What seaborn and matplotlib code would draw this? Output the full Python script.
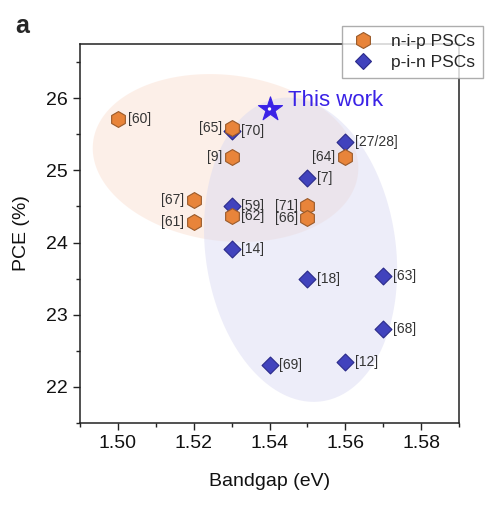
import numpy as np
import pandas as pd
import matplotlib
matplotlib.use("Agg")
import matplotlib.pyplot as plt
from matplotlib.patches import Polygon
from matplotlib.lines import Line2D
import seaborn as sns

# ---------------- data ----------------
nip_refs = ["[60]", "[65]", "[9]", "[67]", "[61]", "[62]", "[71]", "[66]", "[64]"]
nip_bandgap = [1.50, 1.53, 1.53, 1.52, 1.52, 1.53, 1.55, 1.55, 1.56]
nip_pce = [25.71, 25.59, 25.19, 24.59, 24.28, 24.37, 24.51, 24.34, 25.18]

pin_refs = ["[70]", "[59]", "[14]", "[7]", "[27/28]", "[18]", "[63]", "[68]", "[69]", "[12]"]
pin_bandgap = [1.53, 1.53, 1.53, 1.55, 1.56, 1.55, 1.57, 1.57, 1.54, 1.56]
pin_pce = [25.54, 24.51, 23.91, 24.89, 25.39, 23.49, 23.54, 22.80, 22.30, 22.34]

this_work_bandgap = 1.54
this_work_pce = 25.85

# labels placed to the left of their marker
left_labels = ["[65]", "[9]", "[67]", "[61]", "[64]", "[71]", "[66]"]

x_ticks = [1.50, 1.52, 1.54, 1.56, 1.58]
y_ticks = [22, 23, 24, 25, 26]

# ---------------- style ----------------
sns.set_style("ticks")
plt.rcParams["font.family"] = ["Liberation Sans", "DejaVu Sans"]

ORANGE = "#e8843a"
ORANGE_EDGE = "#9a5a2a"
BLUE = "#4143bd"
BLUE_EDGE = "#2a2a8a"
STAR = "#3a22e6"

fig = plt.figure(figsize=(4.89, 5.05), dpi=100)
ax = fig.add_axes([80 / 489, 1 - 423 / 505, 379 / 489, 379 / 505])
ax.set_xlim(1.49, 1.59)
ax.set_ylim(21.5, 26.75)

# pixel scale for drawing rotated ellipses
sx = 379 / (1.59 - 1.49)
sy = 379 / (26.75 - 21.5)


def ellipse_poly(cx, cy, ax_x, ax_y, angle_deg, **kw):
    t = np.linspace(0, 2 * np.pi, 200)
    px = ax_x * sx * np.cos(t)
    py = ax_y * sy * np.sin(t)
    a = np.deg2rad(angle_deg)
    rx = px * np.cos(a) - py * np.sin(a)
    ry = px * np.sin(a) + py * np.cos(a)
    pts = np.column_stack([cx + rx / sx, cy + ry / sy])
    return Polygon(pts, closed=True, **kw)


ax.add_patch(ellipse_poly(1.5284, 25.17, 0.0352, 1.15, -7,
                          facecolor="#fbe0d2", alpha=0.5, edgecolor="none", zorder=0))
ax.add_patch(ellipse_poly(1.5482, 23.90, 0.0251, 2.12, 8,
                          facecolor="#d8d8f2", alpha=0.45, edgecolor="none", zorder=0))

df_pin = pd.DataFrame({"Bandgap": pin_bandgap, "PCE": pin_pce, "ref": pin_refs})
df_nip = pd.DataFrame({"Bandgap": nip_bandgap, "PCE": nip_pce, "ref": nip_refs})

sns.scatterplot(data=df_pin, x="Bandgap", y="PCE", marker="D", s=74,
                color=BLUE, edgecolor=BLUE_EDGE, linewidth=0.8, ax=ax, zorder=3, legend=False)
sns.scatterplot(data=df_nip, x="Bandgap", y="PCE", marker="h", s=130,
                color=ORANGE, edgecolor=ORANGE_EDGE, linewidth=0.8, ax=ax, zorder=4, legend=False)

for df in (df_pin, df_nip):
    for _, r in df.iterrows():
        if r["ref"] in left_labels:
            ax.annotate(r["ref"], (r["Bandgap"], r["PCE"]), xytext=(-7, 0),
                        textcoords="offset points", ha="right", va="center",
                        fontsize=10, color="#333333", zorder=5)
        else:
            ax.annotate(r["ref"], (r["Bandgap"], r["PCE"]), xytext=(7, 0),
                        textcoords="offset points", ha="left", va="center",
                        fontsize=10, color="#333333", zorder=5)

# this work star
ax.scatter([this_work_bandgap], [this_work_pce], marker="*", s=330, color=STAR,
           edgecolor=STAR, linewidth=0.8, zorder=6)
ax.scatter([this_work_bandgap], [this_work_pce], marker="o", s=6, color="white",
           edgecolor="none", zorder=7)
ax.annotate("This work", (this_work_bandgap, this_work_pce), xytext=(13, 6),
            textcoords="offset points", ha="left", va="center",
            fontsize=16, color=STAR, zorder=6)

# axes styling
ax.set_xticks(x_ticks)
ax.set_xticklabels([f"{v:.2f}" for v in x_ticks])
ax.set_yticks(y_ticks)
ax.set_xticks(np.arange(1.49, 1.5901, 0.01), minor=True)
ax.set_yticks(np.arange(21.5, 26.76, 0.5), minor=True)
ax.tick_params(axis="both", which="major", direction="out", length=5, width=1,
               labelsize=14, pad=3.5, color="#222222", labelcolor="#111111")
ax.tick_params(axis="both", which="minor", direction="out", length=3, width=1,
               color="#222222")
ax.tick_params(top=False, right=False, which="both")
for sp in ax.spines.values():
    sp.set_visible(True)
    sp.set_linewidth(1.1)
    sp.set_color("#222222")

ax.set_xlabel("Bandgap (eV)", fontsize=14, labelpad=15, color="#111111")
ax.set_ylabel("PCE (%)", fontsize=14, labelpad=12, color="#111111")

# legend
handles = [
    Line2D([], [], linestyle="none", marker="h", markersize=11.5, markerfacecolor=ORANGE,
           markeredgecolor=ORANGE_EDGE, markeredgewidth=0.8, label="n-i-p PSCs"),
    Line2D([], [], linestyle="none", marker="D", markersize=8.6, markerfacecolor=BLUE,
           markeredgecolor=BLUE_EDGE, markeredgewidth=0.8, label="p-i-n PSCs"),
]
leg = fig.legend(handles=handles, loc="upper right", bbox_to_anchor=(483 / 489, 1 - 26 / 505),
                 fontsize=12.5, frameon=True, fancybox=False, borderaxespad=0,
                 handletextpad=0.8, labelspacing=0.35, borderpad=0.45, handlelength=1.6)
leg.get_frame().set_edgecolor("#999999")
leg.get_frame().set_linewidth(1.0)

fig.text(15 / 489, 1 - 26 / 505, "a", fontsize=18, fontweight="bold", ha="left", va="center")

fig.savefig("out.png", dpi=100)
